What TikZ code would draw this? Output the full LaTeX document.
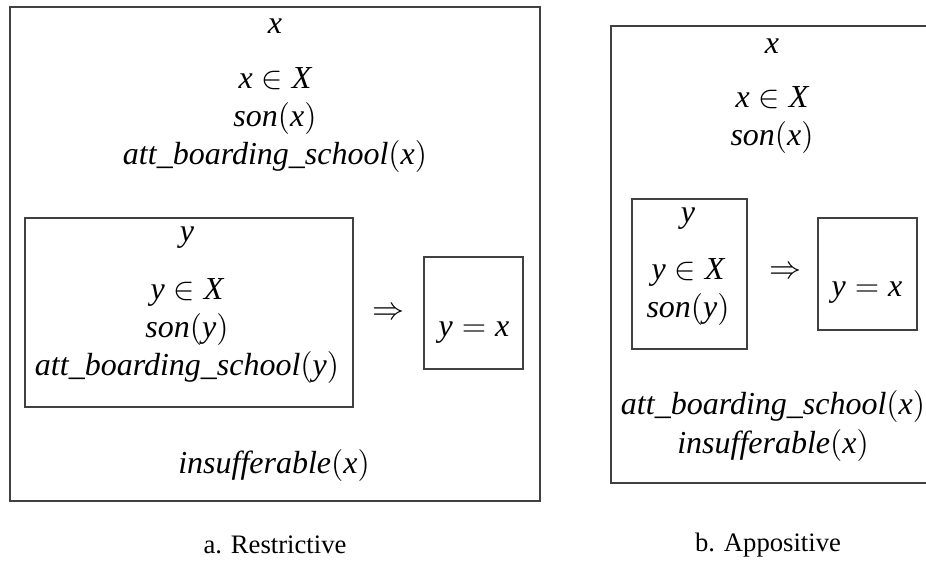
\documentclass[tikz,border=0pt]{standalone}
\usepackage{fontspec}
\setmainfont{Liberation Serif}
\usetikzlibrary{fit}

\newcommand{\mv}[1]{\textit{#1}}

\tikzset{
  drsbox/.style={draw=black!75, line width=0.5pt, inner sep=0pt},
  cond/.style={align=center, inner sep=0pt, font=\fontsize{12}{14.4}\selectfont},
  capt/.style={inner sep=0pt, font=\fontsize{10}{12}\selectfont}
}

\begin{document}
\begin{tikzpicture}[x=0.375pt,y=-0.375pt]
\clip (0,0) rectangle (926,573);

% a. Restrictive
\node[drsbox, fit={(10,7) (540,501)}] (outerA) {};
\node[cond] (refA) at (275,26) {$\mv{x}$};
\node[cond] (condA) at (275,120) {$\mv{x}\in\mv{X}$\\ $\mv{son}(\mv{x})$\\ $\mv{att\_boarding\_school}(\mv{x})$};
\node[drsbox, fit={(25,218) (353,407)}] (antA) {};
\node[cond] (refyA) at (187,238) {$\mv{y}$};
\node[cond] (condyA) at (187,331) {$\mv{y}\in\mv{X}$\\ $\mv{son}(\mv{y})$\\ $\mv{att\_boarding\_school}(\mv{y})$};
\node[cond] (implA) at (388,314) {$\Rightarrow$};
\node[drsbox, fit={(424,257) (523,369)}] (consA) {};
\node[cond] (eqA) at (474,333) {$\mv{y}=\mv{x}$};
\node[cond] (insA) at (274,465) {$\mv{insufferable}(\mv{x})$};
\node[capt] (captA) at (275,545) {a. Restrictive};

% b. Appositive
\node[drsbox, fit={(611,26) (940,483)}] (outerB) {};
\node[cond] (refB) at (772,46) {$\mv{x}$};
\node[cond] (condB) at (772,120) {$\mv{x}\in\mv{X}$\\ $\mv{son}(\mv{x})$};
\node[drsbox, fit={(632,199) (747,349)}] (antB) {};
\node[cond] (refyB) at (688,219) {$\mv{y}$};
\node[cond] (condyB) at (688,292) {$\mv{y}\in\mv{X}$\\ $\mv{son}(\mv{y})$};
\node[cond] (implB) at (785,273) {$\Rightarrow$};
\node[drsbox, fit={(818,218) (917,330)}] (consB) {};
\node[cond] (eqB) at (867,293) {$\mv{y}=\mv{x}$};
\node[cond] (insB) at (773,426) {$\mv{att\_boarding\_school}(\mv{x})$\\ $\mv{insufferable}(\mv{x})$};
\node[capt] (captB) at (768,545) {b. Appositive};
\end{tikzpicture}
\end{document}
